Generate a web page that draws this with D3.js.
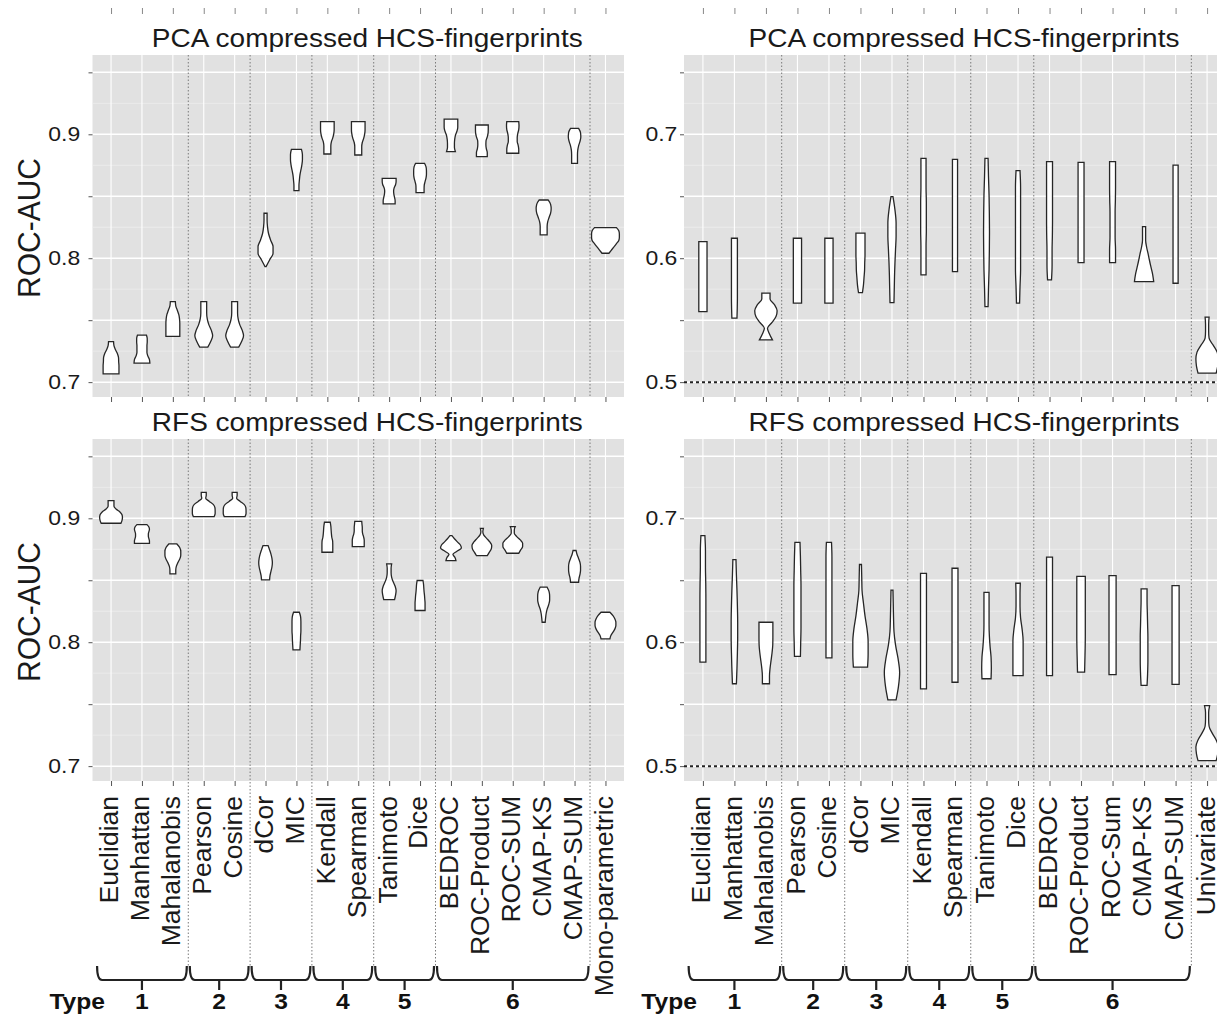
<!DOCTYPE html>
<html>
<head>
<meta charset="utf-8">
<script src="https://cdn.jsdelivr.net/npm/d3@7"></script>
<style>
  body { margin: 0; background: #fff; }
  svg { display: block; }
  .panel-bg { fill: #e1e1e1; }
  .grid-major { stroke: #fff; stroke-width: 1.5; }
  .grid-minor { stroke: #eeeeee; stroke-width: 0.8; }
  .grid-x { stroke: #fff; stroke-width: 1.1; }
  .sep { stroke: #7a7a7a; stroke-width: 1; stroke-dasharray: 1.5,2; }
  .ref { stroke: #222; stroke-width: 2; stroke-dasharray: 3,3; }
  .violin { fill: #fff; stroke: #262626; stroke-width: 1.3; }
  .brace { fill: none; stroke: #222; stroke-width: 2.2; }
</style>
</head>
<body>
<div id="chart"></div>
<script>
/* global d3 */

const FONT = '"Liberation Sans", Arial, sans-serif';
const SX = 1.12; // the source figure is stretched a little sideways

// methods on the x axis of each column
const leftCategories = ['Euclidian', 'Manhattan', 'Mahalanobis', 'Pearson', 'Cosine', 'dCor', 'MIC',
  'Kendall', 'Spearman', 'Tanimoto', 'Dice', 'BEDROC', 'ROC-Product', 'ROC-SUM', 'CMAP-KS',
  'CMAP-SUM', 'Mono-parametric'];
const rightCategories = ['Euclidian', 'Manhattan', 'Mahalanobis', 'Pearson', 'Cosine', 'dCor', 'MIC',
  'Kendall', 'Spearman', 'Tanimoto', 'Dice', 'BEDROC', 'ROC-Product', 'ROC-Sum', 'CMAP-KS',
  'CMAP-SUM', 'Univariate'];

// similarity types: first and last method index of each
const typeLabels = ['1', '2', '3', '4', '5', '6'];
const typeSpans = [[0, 2], [3, 4], [5, 6], [7, 8], [9, 10], [11, 15]];

const leftDomain = [0.688, 0.964];
const rightDomain = [0.488, 0.764];
const leftTicks = [0.7, 0.75, 0.8, 0.85, 0.9, 0.95];
const rightTicks = [0.5, 0.55, 0.6, 0.65, 0.7, 0.75];

// violins: [min ROC-AUC, max ROC-AUC, relative density from min to max]
const pcaLeft = [
  [0.7067, 0.7327, [.57, .57, .57, .55, .54, .46, .32, .21, .18]],
  [0.7153, 0.7380, [.57, .54, .43, .36, .36, .36, .38, .38, .32]],
  [0.7370, 0.7650, [.50, .50, .50, .50, .48, .43, .32, .21, .18]],
  [0.7282, 0.7650, [.29, .50, .64, .54, .36, .25, .21, .21, .21]],
  [0.7282, 0.7650, [.29, .50, .64, .54, .36, .25, .21, .21, .21]],
  [0.7932, 0.8363, [.04, .29, .54, .54, .36, .21, .14, .11, .11]],
  [0.8545, 0.8879, [.18, .18, .21, .25, .32, .39, .43, .43, .36]],
  [0.8841, 0.9102, [.25, .25, .25, .29, .39, .46, .49, .49, .49]],
  [0.8833, 0.9102, [.25, .25, .25, .29, .39, .46, .49, .49, .49]],
  [0.8438, 0.8645, [.43, .43, .39, .34, .32, .36, .46, .50, .50]],
  [0.8529, 0.8766, [.29, .29, .30, .36, .43, .46, .46, .43, .32]],
  [0.8860, 0.9123, [.32, .25, .25, .27, .32, .43, .49, .49, .49]],
  [0.8820, 0.9075, [.39, .39, .32, .29, .30, .39, .45, .46, .46]],
  [0.8847, 0.9102, [.43, .43, .39, .32, .32, .36, .43, .45, .43]],
  [0.8188, 0.8470, [.25, .25, .25, .29, .39, .50, .54, .50, .32]],
  [0.8766, 0.9048, [.21, .21, .21, .23, .29, .39, .45, .43, .29]],
  [0.8040, 0.8247, [.25, .43, .61, .79, .96, 1.0, 1.0, .96, .79]]
];

const pcaRight = [
  [0.5569, 0.6134, [.29, .29, .29, .29, .29, .29, .29, .29, .29]],
  [0.5516, 0.6161, [.18, .20, .21, .21, .21, .21, .21, .21, .21]],
  [0.5341, 0.5718, [.46, .25, .11, .43, .71, .79, .61, .29, .29]],
  [0.5637, 0.6161, [.29, .29, .29, .29, .29, .29, .29, .29, .29]],
  [0.5637, 0.6161, [.29, .29, .29, .29, .29, .29, .29, .29, .29]],
  [0.5723, 0.6202, [.14, .21, .25, .29, .30, .32, .32, .32, .32]],
  [0.5642, 0.6497, [.14, .16, .18, .21, .25, .29, .29, .21, .07]],
  [0.5865, 0.6806, [.18, .18, .18, .20, .20, .20, .18, .18, .18]],
  [0.5892, 0.6798, [.18, .18, .18, .18, .18, .18, .18, .18, .18]],
  [0.5610, 0.6806, [.11, .14, .18, .20, .21, .20, .18, .14, .11]],
  [0.5637, 0.6707, [.11, .14, .18, .18, .18, .18, .18, .18, .14]],
  [0.5826, 0.6779, [.14, .18, .18, .20, .21, .21, .21, .21, .21]],
  [0.5965, 0.6774, [.21, .21, .21, .21, .21, .21, .21, .21, .21]],
  [0.5965, 0.6779, [.21, .21, .18, .18, .18, .20, .21, .21, .21]],
  [0.5811, 0.6255, [.68, .61, .50, .39, .29, .18, .11, .11, .11]],
  [0.5798, 0.6752, [.18, .18, .18, .18, .18, .18, .18, .18, .18]],
  [0.5073, 0.5524, [.64, .75, .79, .71, .43, .14, .11, .11, .14]]
];

const rfsLeft = [
  [0.8960, 0.9143, [.71, .79, .82, .79, .64, .36, .21, .21, .21]],
  [0.8798, 0.8949, [.54, .54, .50, .46, .46, .50, .54, .50, .36]],
  [0.8552, 0.8793, [.21, .21, .25, .36, .50, .57, .57, .50, .29]],
  [0.9014, 0.9210, [.75, .82, .82, .80, .68, .40, .14, .18, .18]],
  [0.9014, 0.9210, [.75, .82, .82, .80, .68, .40, .14, .18, .18]],
  [0.8503, 0.8780, [.29, .32, .39, .46, .49, .46, .39, .29, .18]],
  [0.7939, 0.8242, [.25, .27, .29, .30, .32, .32, .32, .30, .21]],
  [0.8726, 0.8968, [.39, .39, .39, .38, .32, .29, .27, .25, .21]],
  [0.8772, 0.8976, [.43, .43, .43, .39, .32, .29, .29, .27, .25]],
  [0.8344, 0.8632, [.39, .46, .50, .43, .29, .18, .14, .14, .18]],
  [0.8256, 0.8498, [.36, .36, .36, .34, .32, .29, .27, .25, .21]],
  [0.8659, 0.8860, [.36, .29, .14, .43, .75, .68, .46, .25, .07]],
  [0.8699, 0.8919, [.39, .54, .68, .71, .57, .36, .14, .07, .11]],
  [0.8718, 0.8933, [.43, .57, .71, .71, .54, .29, .11, .11, .18]],
  [0.8161, 0.8444, [.11, .14, .18, .25, .36, .43, .43, .39, .25]],
  [0.8484, 0.8740, [.29, .32, .39, .43, .43, .39, .29, .18, .11]],
  [0.8027, 0.8242, [.32, .39, .54, .68, .75, .75, .68, .54, .32]]
];

const rfsRight = [
  [0.5839, 0.6861, [.21, .21, .21, .21, .21, .20, .18, .18, .14]],
  [0.5665, 0.6667, [.14, .18, .21, .23, .23, .21, .18, .14, .11]],
  [0.5665, 0.6161, [.25, .25, .29, .36, .43, .48, .49, .49, .49]],
  [0.5885, 0.6806, [.21, .23, .25, .25, .25, .25, .23, .21, .18]],
  [0.5874, 0.6806, [.21, .21, .21, .21, .21, .21, .21, .21, .18]],
  [0.5799, 0.6627, [.50, .54, .54, .46, .32, .21, .11, .09, .07]],
  [0.5535, 0.6421, [.29, .46, .54, .43, .25, .14, .11, .09, .07]],
  [0.5624, 0.6556, [.21, .21, .21, .21, .21, .21, .21, .21, .21]],
  [0.5677, 0.6597, [.21, .21, .21, .21, .21, .21, .21, .21, .21]],
  [0.5705, 0.6403, [.32, .34, .32, .25, .20, .18, .18, .18, .18]],
  [0.5731, 0.6476, [.36, .36, .36, .36, .29, .18, .14, .14, .16]],
  [0.5731, 0.6686, [.21, .21, .21, .21, .21, .21, .21, .21, .21]],
  [0.5758, 0.6532, [.25, .27, .29, .30, .30, .30, .30, .30, .30]],
  [0.5739, 0.6538, [.25, .25, .25, .25, .25, .25, .25, .25, .25]],
  [0.5651, 0.6431, [.21, .25, .27, .27, .27, .25, .23, .21, .21]],
  [0.5659, 0.6457, [.25, .25, .25, .25, .25, .25, .25, .25, .25]],
  [0.5044, 0.5488, [.64, .75, .79, .64, .36, .14, .11, .11, .18]]
];

const pcaTitle = 'PCA compressed HCS-fingerprints';
const rfsTitle = 'RFS compressed HCS-fingerprints';

let svg = d3.select('#chart')
  .append('svg')
    .attr('width', 1217)
    .attr('height', 1016)
    .attr('font-family', FONT);

// panel boxes (pixels) for the 2x2 layout
const panels = [
  {rows: pcaLeft, cats: leftCategories, xr: [92.5, 624], yr: [397, 55], domain: leftDomain,
    ticks: leftTicks, title: pcaTitle, yTitle: true, pad: 7, labels: false, ref: null},
  {rows: pcaRight, cats: rightCategories, xr: [684, 1226], yr: [397, 55], domain: rightDomain,
    ticks: rightTicks, title: pcaTitle, yTitle: false, pad: 2, labels: false, ref: 0.5},
  {rows: rfsLeft, cats: leftCategories, xr: [92.5, 624], yr: [781, 439], domain: leftDomain,
    ticks: leftTicks, title: rfsTitle, yTitle: true, pad: 7, labels: true, ref: null},
  {rows: rfsRight, cats: rightCategories, xr: [684, 1226], yr: [781, 439], domain: rightDomain,
    ticks: rightTicks, title: rfsTitle, yTitle: false, pad: 2, labels: true, ref: 0.5}
];

panels.forEach(drawPanel);

function drawPanel(p) {
  const [left, right] = p.xr;
  const [bottom, top] = p.yr;

  const x = d3.scalePoint().domain(p.cats).range(p.xr).padding(0.6);
  const y = d3.scaleLinear().domain(p.domain).range(p.yr);
  const w = d3.scaleLinear().domain([0, 1]).range([0, x.step() * 0.45]);

  const g = svg.append('g');

  g.append('rect')
    .attr('class', 'panel-bg')
    .attr('x', left).attr('y', top)
    .attr('width', right - left).attr('height', bottom - top);

  // grid
  const minor = d3.pairs(p.ticks, (a, b) => (a + b) / 2);
  g.selectAll('.grid-minor').data(minor).join('line')
    .attr('class', 'grid-minor')
    .attr('x1', left).attr('x2', right)
    .attr('y1', d => y(d)).attr('y2', d => y(d));

  g.selectAll('.grid-major').data(p.ticks).join('line')
    .attr('class', 'grid-major')
    .attr('x1', left).attr('x2', right)
    .attr('y1', d => y(d)).attr('y2', d => y(d));

  g.selectAll('.grid-x').data(p.cats).join('line')
    .attr('class', 'grid-x')
    .attr('x1', d => x(d)).attr('x2', d => x(d))
    .attr('y1', top).attr('y2', bottom);

  // dotted lines between similarity types
  const sepBottom = p.labels ? 966 : bottom;
  g.selectAll('.sep').data(typeSpans).join('line')
    .attr('class', 'sep')
    .attr('x1', d => x(p.cats[d[1]]) + x.step() / 2)
    .attr('x2', d => x(p.cats[d[1]]) + x.step() / 2)
    .attr('y1', top).attr('y2', sepBottom);

  if (p.ref !== null) {
    g.append('line')
      .attr('class', 'ref')
      .attr('x1', left).attr('x2', right)
      .attr('y1', y(p.ref)).attr('y2', y(p.ref));
  }

  // violins
  const area = d3.area()
    .curve(d3.curveMonotoneY)
    .y(d => y(d[0]))
    .x0(d => d[2] - w(d[1]))
    .x1(d => d[2] + w(d[1]));

  g.selectAll('.violin').data(p.rows).join('path')
    .attr('class', 'violin')
    .attr('d', (r, i) => {
      const [lo, hi, dens] = r;
      const cx = x(p.cats[i]);
      const pts = dens.map((v, k) => [lo + (hi - lo) * k / (dens.length - 1), v, cx]);
      return area(pts.reverse());
    });

  // y axis: ticks every 0.05, labels every 0.1
  const yAxis = g.append('g')
    .attr('transform', 'translate(' + left + ',0)')
    .call(d3.axisLeft(y)
      .tickValues(p.ticks)
      .tickSize(4)
      .tickPadding(p.pad)
      .tickFormat(d => (Math.round(d * 100) % 10 === 0 ? d.toFixed(1) : '')));
  yAxis.select('.domain').remove();
  yAxis.attr('font-family', FONT).attr('font-size', 20.5);
  yAxis.selectAll('.tick line').attr('stroke', '#555');
  yAxis.selectAll('.tick text')
    .attr('fill', '#1a1a1a')
    .attr('transform', 'scale(' + SX + ',1)');

  // x ticks under the panel
  const xAxis = g.append('g')
    .attr('transform', 'translate(0,' + bottom + ')')
    .call(d3.axisBottom(x).tickSize(5).tickFormat(''));
  xAxis.select('.domain').remove();
  xAxis.selectAll('.tick line').attr('stroke', '#555');

  // stray tick row left over from the panel above (cropped figure)
  if (!p.labels) {
    const topRow = g.append('g')
      .attr('transform', 'translate(0,8)')
      .call(d3.axisBottom(x).tickSize(6).tickFormat(''));
    topRow.select('.domain').remove();
    topRow.selectAll('.tick line').attr('stroke', '#888');
  }

  g.append('text')
    .attr('text-anchor', 'middle')
    .attr('transform', 'translate(' + ((left + right) / 2 + 9) + ',' + (top - 8) + ') scale(' + SX + ',1)')
    .attr('font-size', 25)
    .attr('fill', '#1a1a1a')
    .text(p.title);

  if (p.yTitle) {
    g.append('text')
      .attr('text-anchor', 'middle')
      .attr('dy', '0.35em')
      .attr('transform', 'translate(29,' + ((top + bottom) / 2 + 2) + ') scale(1.06,1) rotate(-90)')
      .attr('font-size', 30)
      .attr('fill', '#1a1a1a')
      .text('ROC-AUC');
  }

  if (!p.labels) return;

  // rotated method names
  g.selectAll('.method').data(p.cats).join('text')
    .attr('class', 'method')
    .attr('text-anchor', 'end')
    .attr('dy', '0.28em')
    .attr('transform', d => 'translate(' + x(d) + ',796) rotate(-90)')
    .attr('font-size', 26.5)
    .attr('fill', '#1a1a1a')
    .text(d => d);

  // braces grouping the methods by type
  const half = x.step() / 2;
  g.selectAll('.brace').data(typeSpans).join('path')
    .attr('class', 'brace')
    .attr('d', d => {
      const a = x(p.cats[d[0]]) - half + 1.5;
      const b = x(p.cats[d[1]]) + half - 1.5;
      const c = (a + b) / 2, r = 5;
      return 'M' + a + ',966 Q' + a + ',980 ' + (a + r) + ',980 L' + (b - r) + ',980 Q' + b + ',980 ' + b + ',966' +
        ' M' + c + ',980 L' + c + ',990';
    });

  g.selectAll('.type-num').data(typeSpans).join('text')
    .attr('class', 'type-num')
    .attr('text-anchor', 'middle')
    .attr('transform', d => {
      const c = (x(p.cats[d[0]]) + x(p.cats[d[1]])) / 2;
      return 'translate(' + c + ',1009) scale(' + SX + ',1)';
    })
    .attr('font-size', 22)
    .attr('font-weight', 'bold')
    .attr('fill', '#111')
    .text((d, i) => typeLabels[i]);

  g.append('text')
    .attr('text-anchor', 'end')
    .attr('transform', 'translate(' + (x(p.cats[0]) - 6) + ',1009) scale(' + SX + ',1)')
    .attr('font-size', 22)
    .attr('font-weight', 'bold')
    .attr('fill', '#111')
    .text('Type');
}
</script>
</body>
</html>
